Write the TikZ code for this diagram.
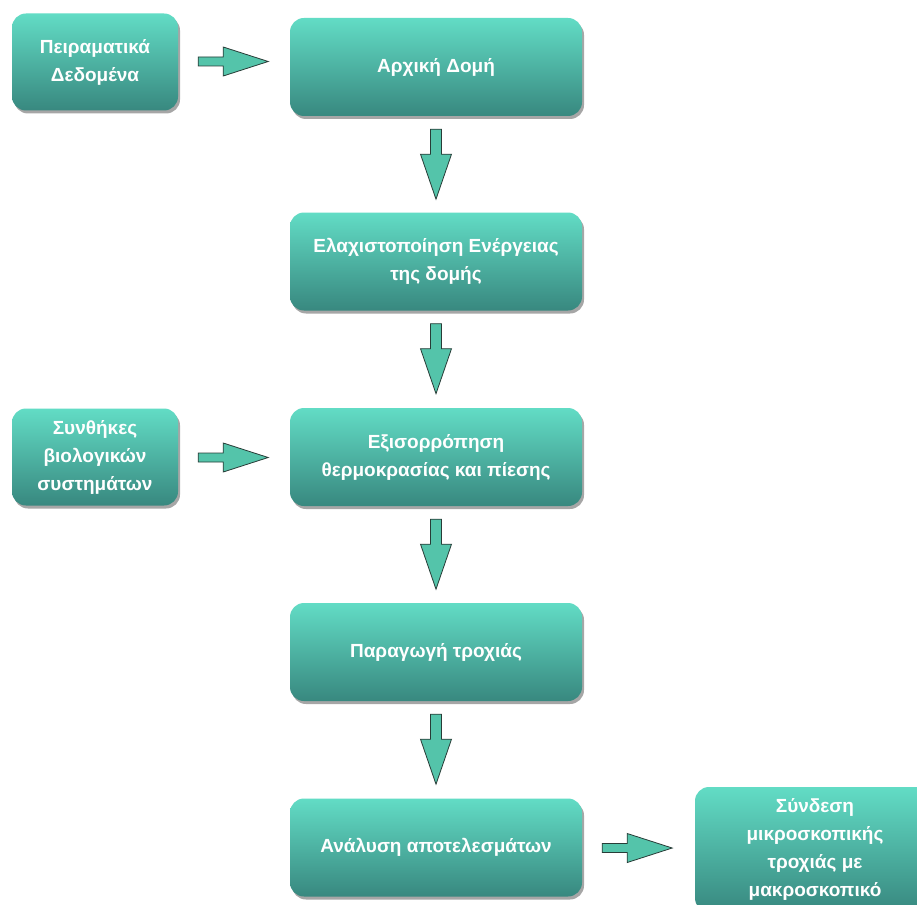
\documentclass[tikz,border=0pt]{standalone}
\usepackage{fontspec}
\setmainfont{Liberation Sans}
\usetikzlibrary{shadows}
\definecolor{boxtop}{RGB}{98,220,197}
\definecolor{boxbot}{RGB}{56,136,127}
\definecolor{arrfill}{RGB}{84,196,170}
\definecolor{arrline}{RGB}{40,60,55}
\tikzset{
  stepbox/.style={rounded corners=14pt, top color=boxtop, bottom color=boxbot,
    draw=none, align=center, text=white, font=\fontsize{19}{28}\selectfont\bfseries,
    inner sep=0pt,
    drop shadow={shadow xshift=2pt, shadow yshift=-3pt, opacity=0.35, fill=black}},
  bigbox/.style={stepbox, minimum width=292pt, minimum height=98pt},
  smallbox/.style={stepbox, minimum width=166pt, minimum height=97pt},
  rarrow/.style={fill=arrfill, draw=arrline, line width=0.8pt},
}
\newcommand{\rblock}[1]{%
  \draw[rarrow] (#1) ++(0,-4.5) -- ++(25,0) -- ++(0,-10) -- ++(45,14.5)
    -- ++(-45,14.5) -- ++(0,-10) -- ++(-25,0) -- cycle;}
\newcommand{\dblock}[1]{%
  \draw[rarrow] (#1) ++(-5.5,0) -- ++(0,25) -- ++(-10,0) -- ++(15.5,45)
    -- ++(15.5,-45) -- ++(-10,0) -- ++(0,-25) -- cycle;}
\begin{document}
\begin{tikzpicture}[x=1pt,y=-1pt]
\clip (0,0) rectangle (917,904);
\fill[white] (0,0) rectangle (917,904);

\node[smallbox] (pd) at (95,62) {Πειραματικά\\Δεδομένα};
\node[bigbox] (ad) at (436,67) {Αρχική Δομή};
\node[bigbox] (el) at (436,261.5) {Ελαχιστοποίηση Ενέργειας\\της δομής};
\node[smallbox] (sy) at (95,457) {Συνθήκες\\βιολογικών\\συστημάτων};
\node[bigbox] (ex) at (436,457) {Εξισορρόπηση\\θερμοκρασίας και πίεσης};
\node[bigbox] (pt) at (436,652) {Παραγωγή τροχιάς};
\node[bigbox] (an) at (436,847.5) {Ανάλυση αποτελεσμάτων};
\node[stepbox, minimum width=240pt, minimum height=125pt] (sd) at (815,849.5)
  {Σύνδεση\\μικροσκοπικής\\τροχιάς με\\μακροσκοπικό};

\coordinate (r1) at ([xshift=20pt]pd.east |- 0,61.5);
\rblock{r1}
\coordinate (r2) at ([xshift=20pt]sy.east |- 0,457.5);
\rblock{r2}
\coordinate (r3) at ([xshift=20pt]an.east |- 0,848);
\rblock{r3}

\coordinate (d1) at ([yshift=-13pt]ad.south);
\dblock{d1}
\coordinate (d2) at ([yshift=-13pt]el.south);
\dblock{d2}
\coordinate (d3) at ([yshift=-13pt]ex.south);
\dblock{d3}
\coordinate (d4) at ([yshift=-13pt]pt.south);
\dblock{d4}
\end{tikzpicture}
\end{document}
